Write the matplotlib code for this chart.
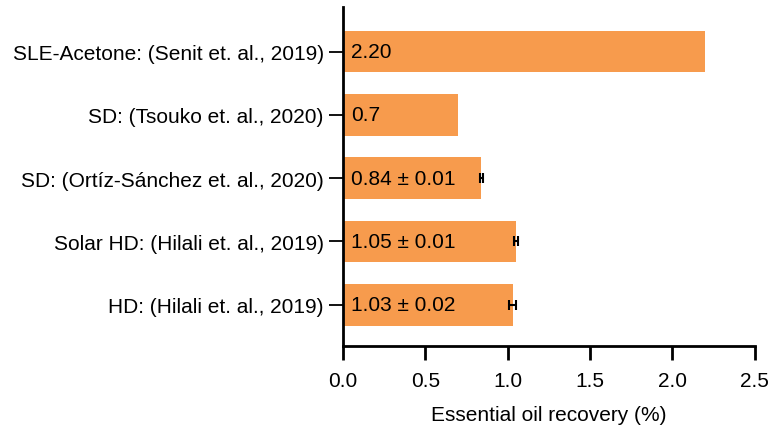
import matplotlib
matplotlib.use("Agg")
import matplotlib.pyplot as plt

plt.rcParams['font.family'] = ['Liberation Sans', 'DejaVu Sans']

methods = [
    "HD: (Hilali et. al., 2019)",
    "Solar HD: (Hilali et. al., 2019)",
    "SD: (Ortíz-Sánchez et. al., 2020)",
    "SD: (Tsouko et. al., 2020)",
    "SLE-Acetone: (Senit et. al., 2019)",
]
recovery = [1.03, 1.05, 0.84, 0.70, 2.20]
errors = [0.02, 0.01, 0.01, 0.0, 0.0]
value_labels = ["1.03 ± 0.02", "1.05 ± 0.01", "0.84 ± 0.01", "0.7", "2.20"]

bar_color = "#F79B4D"

fig = plt.figure(figsize=(7.71, 4.31), dpi=100)
ax = fig.add_axes([0.445, 0.195, 0.534, 0.786])

ypos = list(range(len(methods)))
ax.barh(ypos, recovery, height=0.66, color=bar_color, zorder=2)

for y, v, e in zip(ypos, recovery, errors):
    if e > 0:
        ax.errorbar(v, y, xerr=e, fmt='none', ecolor='black', elinewidth=1.5,
                    capsize=3.5, capthick=1.5, zorder=3)

for y, txt in zip(ypos, value_labels):
    ax.text(0.05, y, txt, va='center', ha='left', fontsize=15, color='black', zorder=4)

ax.set_yticks(ypos)
ax.set_yticklabels(methods, fontsize=15)
ax.set_xlim(0, 2.5)
ax.set_xticks([0.0, 0.5, 1.0, 1.5, 2.0, 2.5])
ax.set_xticklabels(["0.0", "0.5", "1.0", "1.5", "2.0", "2.5"], fontsize=15)
ax.set_ylim(-0.65, 4.70)
ax.set_xlabel("Essential oil recovery (%)", fontsize=15, labelpad=11)

for s in ["top", "right"]:
    ax.spines[s].set_visible(False)
for s in ["left", "bottom"]:
    ax.spines[s].set_linewidth(2)
ax.tick_params(axis='y', direction='out', length=10, width=1.3, pad=4)
ax.tick_params(axis='x', direction='out', length=10, width=2, pad=8)

fig.savefig("out.png", dpi=100)
